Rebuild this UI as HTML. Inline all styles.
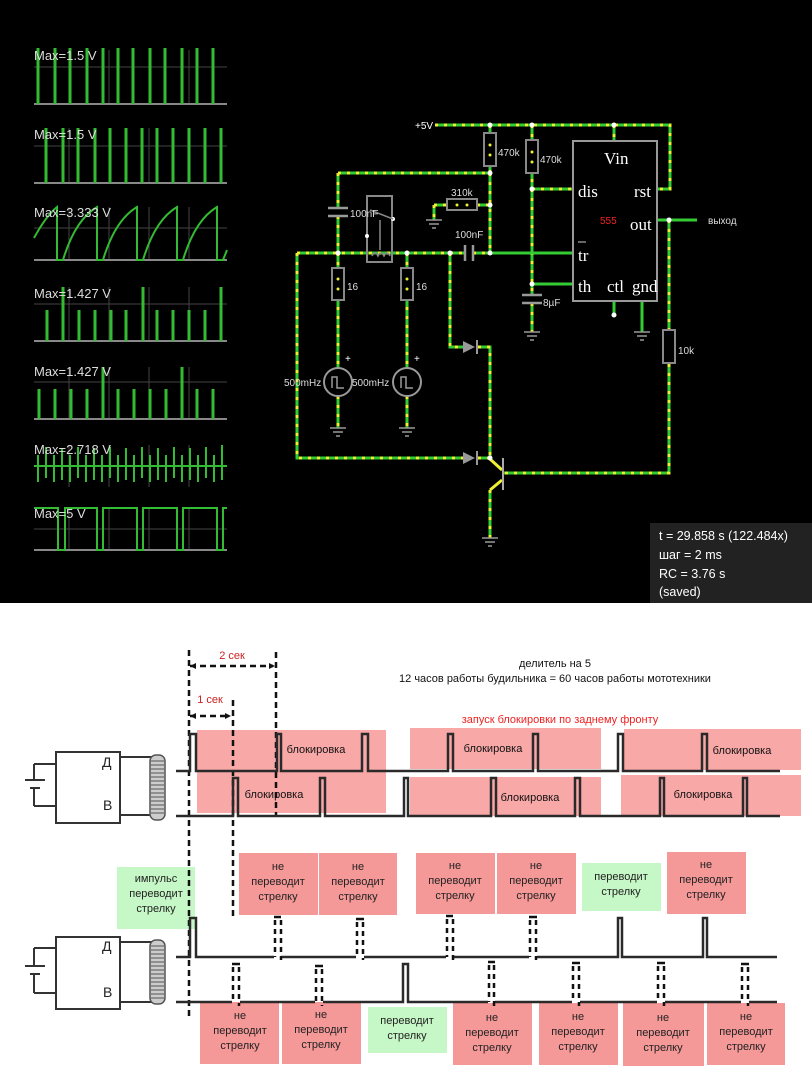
<!DOCTYPE html>
<html><head><meta charset="utf-8"><style>
html,body{margin:0;padding:0;background:#fff;}
svg{display:block;}
.w{fill:none;stroke:#3c3;stroke-width:3;}
.d{fill:none;stroke:#ee3;stroke-width:3;stroke-dasharray:3 6;}
.g{fill:none;stroke:#3c3;stroke-width:3;}
.gr{fill:none;stroke:#888;stroke-width:2;}
.ct{font-family:"Liberation Serif",serif;fill:#fff;font-size:17px;}
.sm{font-family:"Liberation Sans",sans-serif;fill:#ddd;font-size:10px;}
.bt{font-family:"Liberation Sans",sans-serif;fill:#222;font-size:11px;text-anchor:middle;}
.pl{fill:none;stroke:#2a2a2a;stroke-width:2.5;}
.dl{fill:none;stroke:#111;stroke-width:2.5;stroke-dasharray:6 4;}
</style></head><body>
<svg width="812" height="1086" viewBox="0 0 812 1086" xmlns="http://www.w3.org/2000/svg">
<rect x="0" y="0" width="812" height="603" fill="#000"/>
<!-- scope grids -->
<g stroke="#444" stroke-width="1">
<path d="M69 50V104M109 50V104M149 50V104M189 50V104M34 67H227"/>
<path d="M69 128V183M109 128V183M149 128V183M189 128V183M34 146H227"/>
<path d="M69 207V260M109 207V260M149 207V260M189 207V260M34 228H227"/>
<path d="M69 287V341M109 287V341M149 287V341M189 287V341M34 304H227"/>
<path d="M69 367V419M109 367V419M149 367V419M189 367V419M34 382H227"/>
<path d="M69 445V487M109 445V487M149 445V487M189 445V487"/>
<path d="M69 508V550M109 508V550M149 508V550M189 508V550M34 529H227"/>
</g>
<g stroke="#888" stroke-width="2"><path d="M34 104H227M34 183H227M34 260H227M34 341H227M34 419H227M34 550H227"/></g>
<g stroke="#3b3" stroke-width="3" fill="none">
<path d="M38 104V48M55 104V48M70 104V48M87 104V48M103 104V48M118 104V48M133 104V48M150 104V48M165 104V48M182 104V48M197 104V48M213 104V48"/>
<path d="M46 183V128M63 183V128M78 183V128M95 183V128M110 183V128M126 183V128M142 183V128M157 183V128M173 183V128M189 183V128M205 183V128M221 183V128"/>
<path d="M63 341V287M143 341V287M221 341V287M47 341V310M79 341V310M95 341V310M111 341V310M126 341V310M157 341V310M173 341V310M189 341V310M205 341V310"/>
<path d="M103 419V367M182 419V367M39 419V389M55 419V389M71 419V389M87 419V389M118 419V389M134 419V389M150 419V389M166 419V389M197 419V389M213 419V389"/>
</g>
<g stroke="#3b3" stroke-width="2" fill="none">
<path d="M34 238Q46 216 57 207V260H63Q75 220 97 207V260H103Q115 220 137 207V260H143Q155 220 177 207V260H183Q195 220 217 207V260H223L227 250"/>
<path d="M34 466H227M38 455V482M46 447V478M54 455V482M62 448V480M70 455V482M78 447V478M86 455V482M94 448V480M102 455V482M110 447V478M118 455V482M126 448V480M134 455V482M142 447V478M150 455V482M158 448V480M166 455V482M174 447V478M182 455V482M190 448V480M198 455V482M206 447V478M214 455V482M222 445V480"/>
<path d="M34 508H58V550H65V508H97V550H103V508H137V550H143V508H177V550H183V508H217V550H223V508H227"/>
</g>
<g font-family="Liberation Sans,sans-serif" font-size="13" fill="#ddd">
<text x="34" y="60">Max=1.5 V</text><text x="34" y="139">Max=1.5 V</text><text x="34" y="217">Max=3.333 V</text>
<text x="34" y="298">Max=1.427 V</text><text x="34" y="376">Max=1.427 V</text><text x="34" y="454">Max=2.718 V</text><text x="34" y="518">Max=5 V</text>
</g>
<!-- circuit wires -->
<g>
<path class="w" d="M435 125H670V189H657M614 125V141M490 125V173M338 173H490M338 173V208M338 216V253M490 173V253M532 125V189M532 189H573M532 189V295M532 284H573M532 303V332M297 253H465M473 253H490M297 253V458H463M478 458H490M450 253V347H463M478 347H490V458M434 205V220M434 205H447M477 205H490M338 253V382M407 253V382M338 396V428M407 396V428M642 301V332M614 301V315M657 220H669M669 220V473H503M490 490V538"/>
<path class="d" d="M435 125H670V189H657M614 125V141M490 125V173M338 173H490M338 173V208M338 216V253M490 173V253M532 125V189M532 189H573M532 189V295M532 303V332M297 253H465M473 253H490M297 253V458H463M478 458H490M450 253V347H463M478 347H490V458M434 205V220M434 205H447M477 205H490M338 253V382M407 253V382M338 396V428M407 396V428M669 220V473H503M490 490V538"/>
<path class="g" d="M490 253H573M669 220H697M532 284H573"/>
<path d="M490 459L502 470M502 480L490 490" stroke="#ee3" stroke-width="3" fill="none"/>
<path d="M503 458V490" stroke="#aaa" stroke-width="2"/>
<!-- chip -->
<rect x="573" y="141" width="84" height="160" fill="none" stroke="#999" stroke-width="2"/>
<text class="ct" x="604" y="164">Vin</text><text class="ct" x="578" y="197">dis</text><text class="ct" x="634" y="197">rst</text>
<text x="600" y="224" font-family="Liberation Sans,sans-serif" font-size="10" fill="#e22">555</text>
<text class="ct" x="630" y="230">out</text><text class="ct" x="578" y="261">tr</text><path d="M578 242H586" stroke="#ccc"/>
<text class="ct" x="578" y="292">th</text><text class="ct" x="607" y="292">ctl</text><text class="ct" x="632" y="292">gnd</text>
<!-- resistors -->
<g fill="#000" stroke="#888" stroke-width="2">
<rect x="484" y="133" width="12" height="33"/><rect x="526" y="140" width="12" height="33"/>
<rect x="447" y="199" width="30" height="11"/>
<rect x="332" y="268" width="12" height="32"/><rect x="401" y="268" width="12" height="32"/>
<rect x="663" y="330" width="12" height="33"/>
<rect x="367" y="196" width="25" height="66" fill="none"/>
</g>
<g fill="#ee3"><circle cx="490" cy="145" r="1.5"/><circle cx="490" cy="155" r="1.5"/><circle cx="532" cy="152" r="1.5"/><circle cx="532" cy="162" r="1.5"/><circle cx="457" cy="205" r="1.5"/><circle cx="467" cy="205" r="1.5"/><circle cx="338" cy="279" r="1.5"/><circle cx="338" cy="289" r="1.5"/><circle cx="407" cy="279" r="1.5"/><circle cx="407" cy="289" r="1.5"/></g>
<g fill="#fff"><circle cx="490" cy="125" r="2.5"/><circle cx="532" cy="125" r="2.5"/><circle cx="614" cy="125" r="2.5"/><circle cx="490" cy="173" r="2.5"/><circle cx="490" cy="205" r="2.5"/><circle cx="490" cy="253" r="2.5"/><circle cx="450" cy="253" r="2.5"/><circle cx="338" cy="253" r="2.5"/><circle cx="407" cy="253" r="2.5"/><circle cx="532" cy="189" r="2.5"/><circle cx="532" cy="284" r="2.5"/><circle cx="669" cy="220" r="2.5"/><circle cx="490" cy="458" r="2.5"/><circle cx="614" cy="315" r="2.5"/><circle cx="393" cy="219" r="2"/><circle cx="367" cy="236" r="2"/></g>
<path d="M370 210L393 219M380 220V250M372 256q3-6 6 0q3-6 6 0q3-6 6 0" stroke="#888" stroke-width="1.5" fill="none"/>
<!-- caps -->
<g stroke="#999" stroke-width="2.5"><path d="M328 208H348M328 216H348M465 245V261M473 245V261M522 295H542M522 303H542"/></g>
<!-- grounds -->
<g stroke="#999" stroke-width="1.5"><path d="M426 220H442M429 224H439M432 228H436M330 428H346M333 432H343M336 436H340M399 428H415M402 432H412M405 436H409M524 332H540M527 336H537M530 340H534M634 332H650M637 336H647M640 340H644M482 538H498M485 542H495M488 546H492"/></g>
<!-- sources -->
<g fill="#000" stroke="#999" stroke-width="2"><circle cx="338" cy="382" r="14"/><circle cx="407" cy="382" r="14"/></g>
<path d="M332 388V377H337V388H344M401 388V377H406V388H413" stroke="#999" stroke-width="1.5" fill="none"/>
<!-- diodes -->
<g fill="#999"><path d="M463 341L475 347L463 353Z"/><path d="M463 452L475 458L463 464Z"/></g>
<path d="M477 340V354M477 451V465" stroke="#999" stroke-width="2"/>
<g class="sm"><text x="415" y="129" fill="#fff">+5V</text><text x="498" y="156">470k</text><text x="540" y="163">470k</text><text x="451" y="196">310k</text><text x="350" y="217">100nF</text><text x="455" y="238">100nF</text><text x="543" y="306">8µF</text><text x="347" y="290">16</text><text x="416" y="290">16</text><text x="678" y="354">10k</text><text x="284" y="386">500mHz</text><text x="352" y="386">500mHz</text><text x="345" y="362" fill="#fff">+</text><text x="414" y="362" fill="#fff">+</text><text x="708" y="224">выход</text></g>
</g>
<rect x="650" y="523" width="162" height="80" fill="#222"/>
<g font-family="Liberation Sans,sans-serif" font-size="12.5" fill="#fff"><text x="659" y="540">t = 29.858 s (122.484x)</text><text x="659" y="559">шаг = 2 ms</text><text x="659" y="578">RC = 3.76 s</text><text x="659" y="596">(saved)</text></g>

<!-- ===== bottom ===== -->
<g fill="#f9a8a8"><rect x="197" y="730" width="189" height="83"/><rect x="410" y="728" width="191" height="41"/><rect x="410" y="777" width="191" height="39"/><rect x="624" y="729" width="177" height="41"/><rect x="621" y="775" width="180" height="41"/></g>
<g fill="#f59898"><rect x="239" y="853" width="79" height="62"/><rect x="319" y="853" width="78" height="62"/><rect x="416" y="853" width="79" height="61"/><rect x="497" y="853" width="79" height="61"/><rect x="667" y="852" width="79" height="62"/>
<rect x="200" y="1002" width="79" height="62"/><rect x="282" y="1002" width="79" height="62"/><rect x="453" y="1003" width="79" height="62"/><rect x="539" y="1003" width="79" height="62"/><rect x="623" y="1003" width="81" height="63"/><rect x="707" y="1003" width="78" height="62"/></g>
<g fill="#c6f7c6"><rect x="117" y="867" width="78" height="62"/><rect x="582" y="863" width="79" height="48"/><rect x="368" y="1007" width="79" height="46"/></g>

<g font-family="Liberation Sans,sans-serif" font-size="11" fill="#111" text-anchor="middle">
<text x="555" y="667">делитель на 5</text><text x="555" y="682">12 часов работы будильника = 60 часов работы мототехники</text>
<text x="560" y="723" fill="#e22">запуск блокировки по заднему фронту</text>
<text x="232" y="659" fill="#c22">2 сек</text><text x="210" y="703" fill="#c22">1 сек</text>
<text x="316" y="753">блокировка</text><text x="274" y="798">блокировка</text><text x="493" y="752">блокировка</text><text x="530" y="801">блокировка</text><text x="742" y="754">блокировка</text><text x="703" y="798">блокировка</text>
</g>
<g class="bt">
<text x="156" y="882">импульс</text><text x="156" y="897">переводит</text><text x="156" y="912">стрелку</text>
<text x="278" y="870">не</text><text x="278" y="885">переводит</text><text x="278" y="900">стрелку</text>
<text x="358" y="870">не</text><text x="358" y="885">переводит</text><text x="358" y="900">стрелку</text>
<text x="455" y="869">не</text><text x="455" y="884">переводит</text><text x="455" y="899">стрелку</text>
<text x="536" y="869">не</text><text x="536" y="884">переводит</text><text x="536" y="899">стрелку</text>
<text x="621" y="880">переводит</text><text x="621" y="895">стрелку</text>
<text x="706" y="868">не</text><text x="706" y="883">переводит</text><text x="706" y="898">стрелку</text>
<text x="240" y="1019">не</text><text x="240" y="1034">переводит</text><text x="240" y="1049">стрелку</text>
<text x="321" y="1018">не</text><text x="321" y="1033">переводит</text><text x="321" y="1048">стрелку</text>
<text x="407" y="1024">переводит</text><text x="407" y="1039">стрелку</text>
<text x="492" y="1021">не</text><text x="492" y="1036">переводит</text><text x="492" y="1051">стрелку</text>
<text x="578" y="1020">не</text><text x="578" y="1035">переводит</text><text x="578" y="1050">стрелку</text>
<text x="663" y="1021">не</text><text x="663" y="1036">переводит</text><text x="663" y="1051">стрелку</text>
<text x="746" y="1020">не</text><text x="746" y="1035">переводит</text><text x="746" y="1050">стрелку</text>
</g>
<!-- dashed guides -->
<path class="dl" d="M189 650V1017M233 700V917M276 652V815M190 666H273M190 716H229"/>
<path d="M190 666l6-3v6zM275 666l-6-3v6zM190 716l6-3v6zM231 716l-6-3v6z" fill="#111"/>
<!-- waveforms top -->
<path class="pl" d="M176 771H190V734H196V771H277V734H281V771H362V734H368V771H448V734H453V771H533V734H538V771H618V734H623V771H702V734H707V771H780"/>
<path class="pl" d="M176 816H233V778H238V816H320V778H325V816H404V778H408V816H491V778H496V816H575V778H580V816H660V778H664V816H743V778H747V816H780"/>
<!-- waveforms bottom -->
<path class="pl" d="M176 957H190V918H196V957H274M281 957H356M364 957H446M453 957H529M537 957H618V918H622V957H703V918H707V957H777"/>
<path class="pl" d="M176 1002H232M240 1002H315M323 1002H403V964H408V1002H488M495 1002H572M580 1002H657M665 1002H741M749 1002H777"/>
<g stroke="#111" stroke-width="2.5" fill="none">
<path d="M274 917H281M356 919H364M446 916H453M529 917H537M232 964H240M315 966H323M488 962H495M572 963H580M657 963H665M741 964H749"/>
<path stroke-dasharray="5 4" d="M275 920V957M281 920V960M357 922V957M363 922V960M447 919V957M453 919V960M530 920V957M536 920V960M233 967V1002M239 967V1006M316 969V1002M322 969V1006M489 965V1002M494 965V1006M573 966V1002M579 966V1006M658 966V1002M664 966V1006M742 967V1002M748 967V1006"/>
</g>
<!-- devices -->
<g stroke="#333" stroke-width="2" fill="none">
<rect x="56" y="752" width="64" height="71"/><path d="M34 764H56M34 806H56M34 764V780M34 788V806M25 780H45M30 788H40M120 757H152M120 815H152"/>
<rect x="56" y="937" width="64" height="72"/><path d="M34 948H56M34 993H56M34 948V966M34 974V993M25 966H45M30 974H40M120 942H152M120 1002H152"/>
</g>
<g stroke="#555" stroke-width="1.5" fill="#ccc">
<rect x="150" y="755" width="15" height="65" rx="6"/><rect x="150" y="940" width="15" height="64" rx="6"/>
</g>
<path d="M151 761H164M151 765H164M151 769H164M151 773H164M151 777H164M151 781H164M151 785H164M151 789H164M151 793H164M151 797H164M151 801H164M151 805H164M151 809H164M151 813H164M151 946H164M151 950H164M151 954H164M151 958H164M151 962H164M151 966H164M151 970H164M151 974H164M151 978H164M151 982H164M151 986H164M151 990H164M151 994H164M151 998H164" stroke="#555" stroke-width="1"/>
<g font-family="Liberation Sans,sans-serif" font-size="14" fill="#222"><text x="102" y="767">Д</text><text x="103" y="810">B</text><text x="102" y="951">Д</text><text x="103" y="997">B</text></g>
</svg>
</body></html>
